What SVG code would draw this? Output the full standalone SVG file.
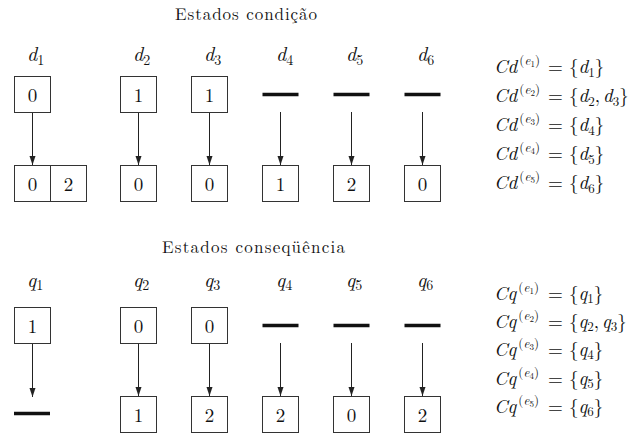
<svg xmlns="http://www.w3.org/2000/svg" width="632" height="436" viewBox="0 0 632 436" font-family="Latin Modern Roman, Liberation Serif, serif">
<defs>
<style>
text{fill:#111;}
.t{font-size:17px;}
.n{font-size:19px;text-anchor:middle;}
.l{font-size:20px;}
.f{font-size:19px;}
.i{font-style:italic;}
.s{font-size:14px;}
.s2{font-size:13px;}
.sp{font-size:13px;}
.ss{font-size:9px;}
.box{fill:#fff;stroke:#333;stroke-width:1;}
.bar{stroke:#111;stroke-width:3.5;}
.arr{stroke:#222;stroke-width:1;fill:none;marker-end:url(#ah);}
</style>
<marker id="ah" markerUnits="userSpaceOnUse" markerWidth="8" markerHeight="10" refX="3" refY="9" orient="0" viewBox="0 0 6 10">
<path d="M0,0 L6,0 L3,9 z" fill="#222"/>
</marker>
</defs>
<rect width="632" height="436" fill="#fff"/>

<text class="t" x="175" y="20" textLength="142" lengthAdjust="spacing">Estados condição</text>
<text class="t" x="162" y="253" textLength="183" lengthAdjust="spacing">Estados conseqüência</text>

<g id="connectors">
<line class="arr" x1="32.5" y1="112" x2="32.5" y2="165"/>
<line class="arr" x1="138.5" y1="112" x2="138.5" y2="165"/>
<line class="arr" x1="209.5" y1="112" x2="209.5" y2="165"/>
<line class="arr" x1="280.5" y1="112" x2="280.5" y2="165"/>
<line class="arr" x1="351.5" y1="112" x2="351.5" y2="165"/>
<line class="arr" x1="422.5" y1="112" x2="422.5" y2="165"/>
<line class="arr" x1="32.5" y1="343" x2="32.5" y2="397"/>
<line class="arr" x1="138.5" y1="343" x2="138.5" y2="396"/>
<line class="arr" x1="209.5" y1="343" x2="209.5" y2="396"/>
<line class="arr" x1="280.5" y1="343" x2="280.5" y2="396"/>
<line class="arr" x1="351.5" y1="343" x2="351.5" y2="396"/>
<line class="arr" x1="422.5" y1="343" x2="422.5" y2="396"/>
</g>

<!-- condition states -->
<g id="d1">
<text class="l" x="27" y="61"><tspan class="i">d</tspan><tspan class="s" dy="4">1</tspan></text>
<rect class="box" x="14.5" y="76.5" width="36" height="36"/><text class="n" x="32.5" y="102">0</text>
</g>
<g id="d1-result">
<rect class="box" x="14.5" y="165.5" width="36" height="36"/><text class="n" x="32.5" y="191">0</text>
<rect class="box" x="50.5" y="165.5" width="36" height="36"/><text class="n" x="68.5" y="191">2</text>
</g>
<g id="d2">
<text class="l" x="133" y="61"><tspan class="i">d</tspan><tspan class="s" dy="4">2</tspan></text>
<rect class="box" x="120.5" y="76.5" width="36" height="36"/><text class="n" x="138.5" y="102">1</text>
</g>
<g id="d2-result">
<rect class="box" x="120.5" y="165.5" width="36" height="36"/><text class="n" x="138.5" y="191">0</text>
</g>
<g id="d3">
<text class="l" x="204" y="61"><tspan class="i">d</tspan><tspan class="s" dy="4">3</tspan></text>
<rect class="box" x="191.5" y="76.5" width="36" height="36"/><text class="n" x="209.5" y="102">1</text>
</g>
<g id="d3-result">
<rect class="box" x="191.5" y="165.5" width="36" height="36"/><text class="n" x="209.5" y="191">0</text>
</g>
<g id="d4">
<text class="l" x="276" y="61"><tspan class="i">d</tspan><tspan class="s" dy="4">4</tspan></text>
<line class="bar" x1="262.5" y1="94.5" x2="298.5" y2="94.5"/>
</g>
<g id="d4-result">
<rect class="box" x="262.5" y="165.5" width="36" height="36"/><text class="n" x="280.5" y="191">1</text>
</g>
<g id="d5">
<text class="l" x="346" y="61"><tspan class="i">d</tspan><tspan class="s" dy="4">5</tspan></text>
<line class="bar" x1="333.5" y1="94.5" x2="369.5" y2="94.5"/>
</g>
<g id="d5-result">
<rect class="box" x="333.5" y="165.5" width="36" height="36"/><text class="n" x="351.5" y="191">2</text>
</g>
<g id="d6">
<text class="l" x="417" y="61"><tspan class="i">d</tspan><tspan class="s" dy="4">6</tspan></text>
<line class="bar" x1="404.5" y1="94.5" x2="440.5" y2="94.5"/>
</g>
<g id="d6-result">
<rect class="box" x="404.5" y="165.5" width="36" height="36"/><text class="n" x="422.5" y="191">0</text>
</g>

<!-- consequence states -->
<g id="q1">
<text class="l" x="27" y="287"><tspan class="i">q</tspan><tspan class="s" dy="3">1</tspan></text>
<rect class="box" x="14.5" y="307.5" width="36" height="36"/><text class="n" x="32.5" y="333">1</text>
</g>
<g id="q1-result">
<line class="bar" x1="14" y1="413.5" x2="50" y2="413.5"/>
</g>
<g id="q2">
<text class="l" x="133" y="287"><tspan class="i">q</tspan><tspan class="s" dy="3">2</tspan></text>
<rect class="box" x="120.5" y="307.5" width="36" height="36"/><text class="n" x="138.5" y="333">0</text>
</g>
<g id="q2-result">
<rect class="box" x="120.5" y="396.5" width="36" height="36"/><text class="n" x="138.5" y="422">1</text>
</g>
<g id="q3">
<text class="l" x="204" y="287"><tspan class="i">q</tspan><tspan class="s" dy="3">3</tspan></text>
<rect class="box" x="191.5" y="307.5" width="36" height="36"/><text class="n" x="209.5" y="333">0</text>
</g>
<g id="q3-result">
<rect class="box" x="191.5" y="396.5" width="36" height="36"/><text class="n" x="209.5" y="422">2</text>
</g>
<g id="q4">
<text class="l" x="276" y="287"><tspan class="i">q</tspan><tspan class="s" dy="3">4</tspan></text>
<line class="bar" x1="262.5" y1="325.5" x2="298.5" y2="325.5"/>
</g>
<g id="q4-result">
<rect class="box" x="262.5" y="396.5" width="36" height="36"/><text class="n" x="280.5" y="422">2</text>
</g>
<g id="q5">
<text class="l" x="346" y="287"><tspan class="i">q</tspan><tspan class="s" dy="3">5</tspan></text>
<line class="bar" x1="333.5" y1="325.5" x2="369.5" y2="325.5"/>
</g>
<g id="q5-result">
<rect class="box" x="333.5" y="396.5" width="36" height="36"/><text class="n" x="351.5" y="422">0</text>
</g>
<g id="q6">
<text class="l" x="417" y="287"><tspan class="i">q</tspan><tspan class="s" dy="3">6</tspan></text>
<line class="bar" x1="404.5" y1="325.5" x2="440.5" y2="325.5"/>
</g>
<g id="q6-result">
<rect class="box" x="404.5" y="396.5" width="36" height="36"/><text class="n" x="422.5" y="422">2</text>
</g>

<!-- formulas -->
<g id="cd-sets">
<text class="f" x="494" y="73"><tspan class="i">Cd</tspan><tspan class="sp" dx="2" dy="-8">(</tspan><tspan class="sp i">e</tspan><tspan class="ss" dy="2">1</tspan><tspan class="sp" dy="-2">)</tspan><tspan x="548" dy="8">=</tspan><tspan x="569">{</tspan><tspan class="i">d</tspan><tspan class="s2" dy="4">1</tspan><tspan dy="-4">}</tspan></text>
<text class="f" x="494" y="102"><tspan class="i">Cd</tspan><tspan class="sp" dx="2" dy="-8">(</tspan><tspan class="sp i">e</tspan><tspan class="ss" dy="2">2</tspan><tspan class="sp" dy="-2">)</tspan><tspan x="548" dy="8">=</tspan><tspan x="569">{</tspan><tspan class="i">d</tspan><tspan class="s2" dy="4">2</tspan><tspan dy="-4">,</tspan><tspan class="i" dx="3">d</tspan><tspan class="s2" dy="4">3</tspan><tspan dy="-4">}</tspan></text>
<text class="f" x="494" y="131"><tspan class="i">Cd</tspan><tspan class="sp" dx="2" dy="-8">(</tspan><tspan class="sp i">e</tspan><tspan class="ss" dy="2">3</tspan><tspan class="sp" dy="-2">)</tspan><tspan x="548" dy="8">=</tspan><tspan x="569">{</tspan><tspan class="i">d</tspan><tspan class="s2" dy="4">4</tspan><tspan dy="-4">}</tspan></text>
<text class="f" x="494" y="160"><tspan class="i">Cd</tspan><tspan class="sp" dx="2" dy="-8">(</tspan><tspan class="sp i">e</tspan><tspan class="ss" dy="2">4</tspan><tspan class="sp" dy="-2">)</tspan><tspan x="548" dy="8">=</tspan><tspan x="569">{</tspan><tspan class="i">d</tspan><tspan class="s2" dy="4">5</tspan><tspan dy="-4">}</tspan></text>
<text class="f" x="494" y="189"><tspan class="i">Cd</tspan><tspan class="sp" dx="2" dy="-8">(</tspan><tspan class="sp i">e</tspan><tspan class="ss" dy="2">5</tspan><tspan class="sp" dy="-2">)</tspan><tspan x="548" dy="8">=</tspan><tspan x="569">{</tspan><tspan class="i">d</tspan><tspan class="s2" dy="4">6</tspan><tspan dy="-4">}</tspan></text>
</g>
<g id="cq-sets">
<text class="f" x="494" y="300"><tspan class="i">Cq</tspan><tspan class="sp" dx="2" dy="-8">(</tspan><tspan class="sp i">e</tspan><tspan class="ss" dy="2">1</tspan><tspan class="sp" dy="-2">)</tspan><tspan x="548" dy="8">=</tspan><tspan x="569">{</tspan><tspan class="i">q</tspan><tspan class="s2" dy="3">1</tspan><tspan dy="-3">}</tspan></text>
<text class="f" x="494" y="328"><tspan class="i">Cq</tspan><tspan class="sp" dx="2" dy="-8">(</tspan><tspan class="sp i">e</tspan><tspan class="ss" dy="2">2</tspan><tspan class="sp" dy="-2">)</tspan><tspan x="548" dy="8">=</tspan><tspan x="569">{</tspan><tspan class="i">q</tspan><tspan class="s2" dy="3">2</tspan><tspan dy="-3">,</tspan><tspan class="i" dx="3">q</tspan><tspan class="s2" dy="3">3</tspan><tspan dy="-3">}</tspan></text>
<text class="f" x="494" y="356"><tspan class="i">Cq</tspan><tspan class="sp" dx="2" dy="-8">(</tspan><tspan class="sp i">e</tspan><tspan class="ss" dy="2">3</tspan><tspan class="sp" dy="-2">)</tspan><tspan x="548" dy="8">=</tspan><tspan x="569">{</tspan><tspan class="i">q</tspan><tspan class="s2" dy="3">4</tspan><tspan dy="-3">}</tspan></text>
<text class="f" x="494" y="385"><tspan class="i">Cq</tspan><tspan class="sp" dx="2" dy="-8">(</tspan><tspan class="sp i">e</tspan><tspan class="ss" dy="2">4</tspan><tspan class="sp" dy="-2">)</tspan><tspan x="548" dy="8">=</tspan><tspan x="569">{</tspan><tspan class="i">q</tspan><tspan class="s2" dy="3">5</tspan><tspan dy="-3">}</tspan></text>
<text class="f" x="494" y="413"><tspan class="i">Cq</tspan><tspan class="sp" dx="2" dy="-8">(</tspan><tspan class="sp i">e</tspan><tspan class="ss" dy="2">5</tspan><tspan class="sp" dy="-2">)</tspan><tspan x="548" dy="8">=</tspan><tspan x="569">{</tspan><tspan class="i">q</tspan><tspan class="s2" dy="3">6</tspan><tspan dy="-3">}</tspan></text>
</g>
</svg>
